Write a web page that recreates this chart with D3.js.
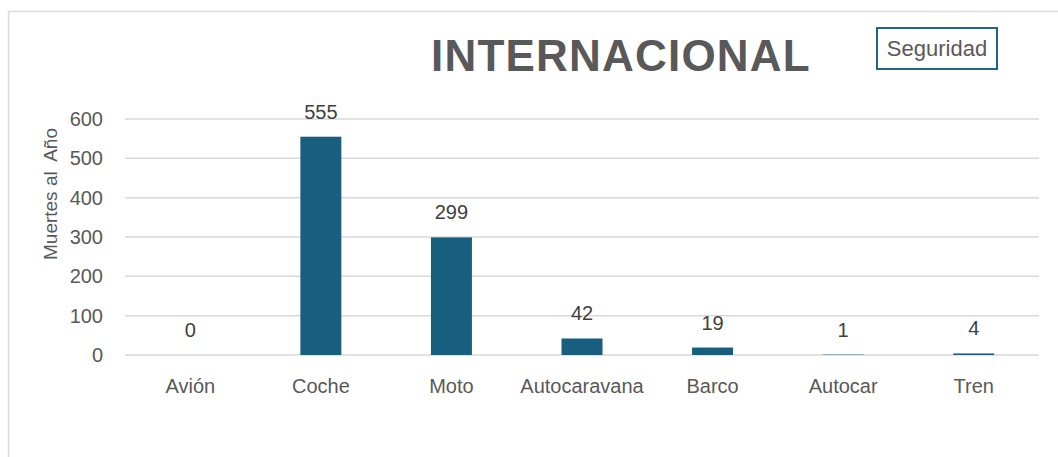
<!DOCTYPE html>
<html>
<head>
<meta charset="utf-8">
<script src="https://cdn.jsdelivr.net/npm/d3@7"></script>
<style>
  body { margin: 0; background: #fff; }
  svg { display: block; font-family: "Liberation Sans", Arial, sans-serif; }
</style>
</head>
<body>
<div id="vis"></div>
<script>
var categories = ["Avión", "Coche", "Moto", "Autocaravana", "Barco", "Autocar", "Tren"];
var deaths = [0, 555, 299, 42, 19, 1, 4];
var yTicks = [0, 100, 200, 300, 400, 500, 600];

var margin = {top: 119, right: 19, bottom: 102, left: 125};
var W = 1058, H = 457;
var width = W - margin.left - margin.right,
    height = H - margin.top - margin.bottom;

var svg = d3.select("#vis").append("svg")
  .attr("width", W)
  .attr("height", H);

// chart frame (only top and left are visible in the window)
svg.append("rect")
  .attr("x", 8.5).attr("y", 11.5)
  .attr("width", 1200).attr("height", 600)
  .attr("fill", "none")
  .attr("stroke", "#d9d9d9")
  .attr("stroke-width", 1.5);

var g = svg.append("g")
  .attr("transform", "translate(" + margin.left + "," + margin.top + ")");

var x = d3.scaleBand()
  .domain(categories)
  .range([0, width])
  .paddingInner(0.686)
  .paddingOuter(0.343);

var y = d3.scaleLinear()
  .domain([0, 600])
  .range([height, 0]);

// gridlines
g.append("g")
  .selectAll("line")
  .data(yTicks)
  .enter().append("line")
  .attr("x1", 0)
  .attr("x2", width)
  .attr("y1", function(d) { return y(d); })
  .attr("y2", function(d) { return y(d); })
  .attr("stroke", "#d9d9d9")
  .attr("stroke-width", 1.5);

// y axis labels
var yAxis = g.append("g")
  .call(d3.axisLeft(y).tickValues(yTicks).tickSize(0).tickPadding(22));
yAxis.select(".domain").remove();
yAxis.selectAll("text")
  .attr("fill", "#595959")
  .attr("font-size", 20)
  .attr("font-family", "Liberation Sans, Arial, sans-serif");

// x axis labels
var xAxis = g.append("g")
  .attr("transform", "translate(0," + height + ")")
  .call(d3.axisBottom(x).tickSize(0).tickPadding(24));
xAxis.select(".domain").remove();
xAxis.selectAll("text")
  .attr("fill", "#595959")
  .attr("font-size", 20)
  .attr("font-family", "Liberation Sans, Arial, sans-serif");

// bars
g.append("g")
  .selectAll("rect")
  .data(deaths)
  .enter().append("rect")
  .attr("x", function(d, i) { return x(categories[i]); })
  .attr("y", function(d) { return y(d); })
  .attr("width", x.bandwidth())
  .attr("height", function(d) { return height - y(d); })
  .attr("fill", "#175e7f");

// value labels
g.append("g")
  .selectAll("text")
  .data(deaths)
  .enter().append("text")
  .attr("x", function(d, i) { return x(categories[i]) + x.bandwidth() / 2; })
  .attr("y", function(d) { return y(d) - 18; })
  .attr("text-anchor", "middle")
  .attr("fill", "#404040")
  .attr("font-size", 20)
  .text(function(d) { return d; });

// y title
svg.append("text")
  .attr("transform", "translate(57,194) rotate(-90)")
  .attr("text-anchor", "middle")
  .attr("fill", "#595959")
  .attr("font-size", 19)
  .attr("xml:space", "preserve")
  .text("Muertes al  Año");

// chart title
svg.append("text")
  .attr("x", 621)
  .attr("y", 71)
  .attr("text-anchor", "middle")
  .attr("fill", "#595959")
  .attr("font-size", 44)
  .attr("font-weight", "bold")
  .attr("letter-spacing", 1.2)
  .text("INTERNACIONAL");

// legend box
svg.append("rect")
  .attr("x", 877).attr("y", 28)
  .attr("width", 120).attr("height", 41)
  .attr("fill", "#fff")
  .attr("stroke", "#1f6584")
  .attr("stroke-width", 2);

svg.append("text")
  .attr("x", 937)
  .attr("y", 56)
  .attr("text-anchor", "middle")
  .attr("fill", "#595959")
  .attr("font-size", 22)
  .text("Seguridad");
</script>
</body>
</html>
